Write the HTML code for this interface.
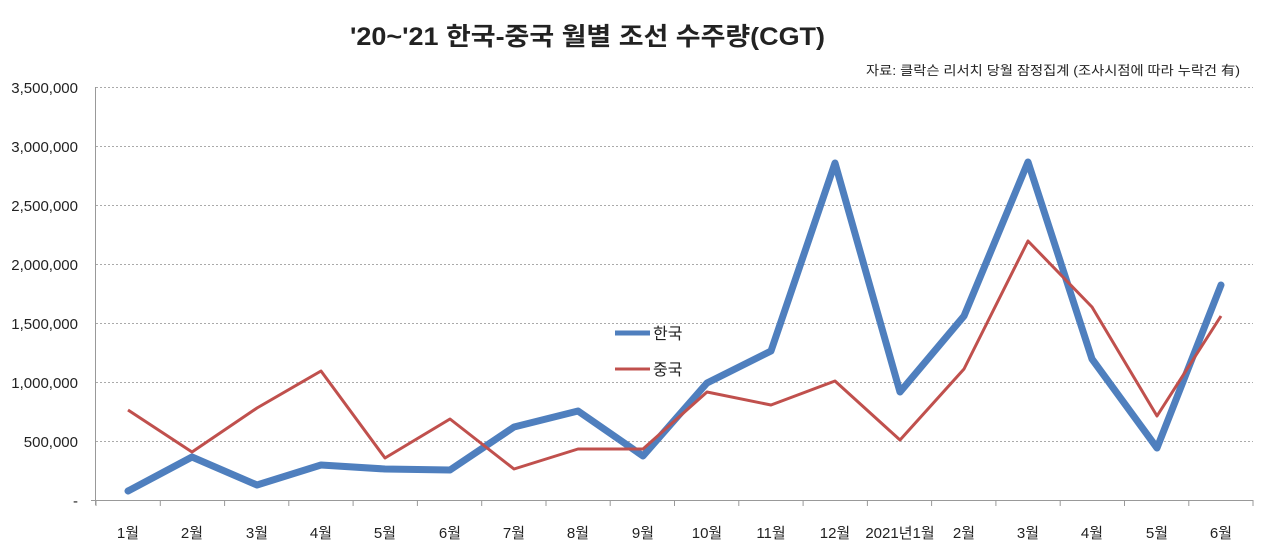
<!DOCTYPE html>
<html><head><meta charset="utf-8"><style>
body{margin:0;background:#fff;width:1280px;height:552px;overflow:hidden}
text{font-family:"Liberation Sans","Noto Sans CJK KR",sans-serif;fill:#222}
</style></head><body>
<svg width="1280" height="552" xmlns="http://www.w3.org/2000/svg">
<text x="350" y="45" font-size="25" font-weight="bold" fill="#111" textLength="475" lengthAdjust="spacingAndGlyphs">'20~'21 한국-중국 월별 조선 수주량(CGT)</text>
<text x="866" y="75" font-size="13" textLength="374" lengthAdjust="spacingAndGlyphs">자료: 클락슨 리서치 당월 잠정집계 (조사시점에 따라 누락건 有)</text>
<g stroke="#aaa" stroke-dasharray="2,2" stroke-width="1">
<line x1="96" y1="87.5" x2="1253" y2="87.5"/><line x1="96" y1="146.5" x2="1253" y2="146.5"/><line x1="96" y1="205.5" x2="1253" y2="205.5"/><line x1="96" y1="264.5" x2="1253" y2="264.5"/><line x1="96" y1="323.5" x2="1253" y2="323.5"/><line x1="96" y1="382.5" x2="1253" y2="382.5"/><line x1="96" y1="441.5" x2="1253" y2="441.5"/>
</g>
<g stroke="#999" stroke-width="1">
<line x1="95.5" y1="87" x2="95.5" y2="505"/><line x1="91" y1="500.5" x2="1253" y2="500.5"/>
<path d="M96 500v6M160.3 500v6M224.6 500v6M288.8 500v6M353.1 500v6M417.4 500v6M481.7 500v6M546 500v6M610.2 500v6M674.5 500v6M738.8 500v6M803.1 500v6M867.4 500v6M931.6 500v6M995.9 500v6M1060.2 500v6M1124.5 500v6M1188.8 500v6M1253 500v6"/>
</g>
<g font-size="15" text-anchor="end">
<text x="78" y="93">3,500,000</text><text x="78" y="152">3,000,000</text><text x="78" y="211">2,500,000</text><text x="78" y="270">2,000,000</text><text x="78" y="329">1,500,000</text><text x="78" y="388">1,000,000</text><text x="78" y="447">500,000</text><text x="78" y="506">-</text>
</g>
<g font-size="15" text-anchor="middle">
<text x="128" y="538">1월</text><text x="192" y="538">2월</text><text x="257" y="538">3월</text><text x="321" y="538">4월</text><text x="385" y="538">5월</text><text x="450" y="538">6월</text><text x="514" y="538">7월</text><text x="578" y="538">8월</text><text x="643" y="538">9월</text><text x="707" y="538">10월</text><text x="771" y="538">11월</text><text x="835" y="538">12월</text><text x="900" y="538">2021년1월</text><text x="964" y="538">2월</text><text x="1028" y="538">3월</text><text x="1092" y="538">4월</text><text x="1157" y="538">5월</text><text x="1221" y="538">6월</text>
</g>
<polyline fill="none" stroke="#4F7FBE" stroke-width="7" stroke-linejoin="round" stroke-linecap="round" points="128,491 192,457 257,485 321,465 385,469 450,470 514,427 578,411 643,456 707,383 771,351 835,163 900,392 964,316 1028,162 1092,359 1157,448 1221,285"/>
<polyline fill="none" stroke="#C0504D" stroke-width="3" stroke-linejoin="round" points="128,410 192,452 257,408 321,371 385,458 450,419 514,469 578,449 643,449 707,392 771,405 835,381 900,440 964,369 1028,241 1092,307 1157,416 1221,316"/>
<line x1="615" y1="333" x2="650" y2="333" stroke="#4F7FBE" stroke-width="5"/>
<text x="653" y="339" font-size="16">한국</text>
<line x1="615" y1="369" x2="650" y2="369" stroke="#C0504D" stroke-width="3"/>
<text x="653" y="375" font-size="16">중국</text>
</svg>
</body></html>
